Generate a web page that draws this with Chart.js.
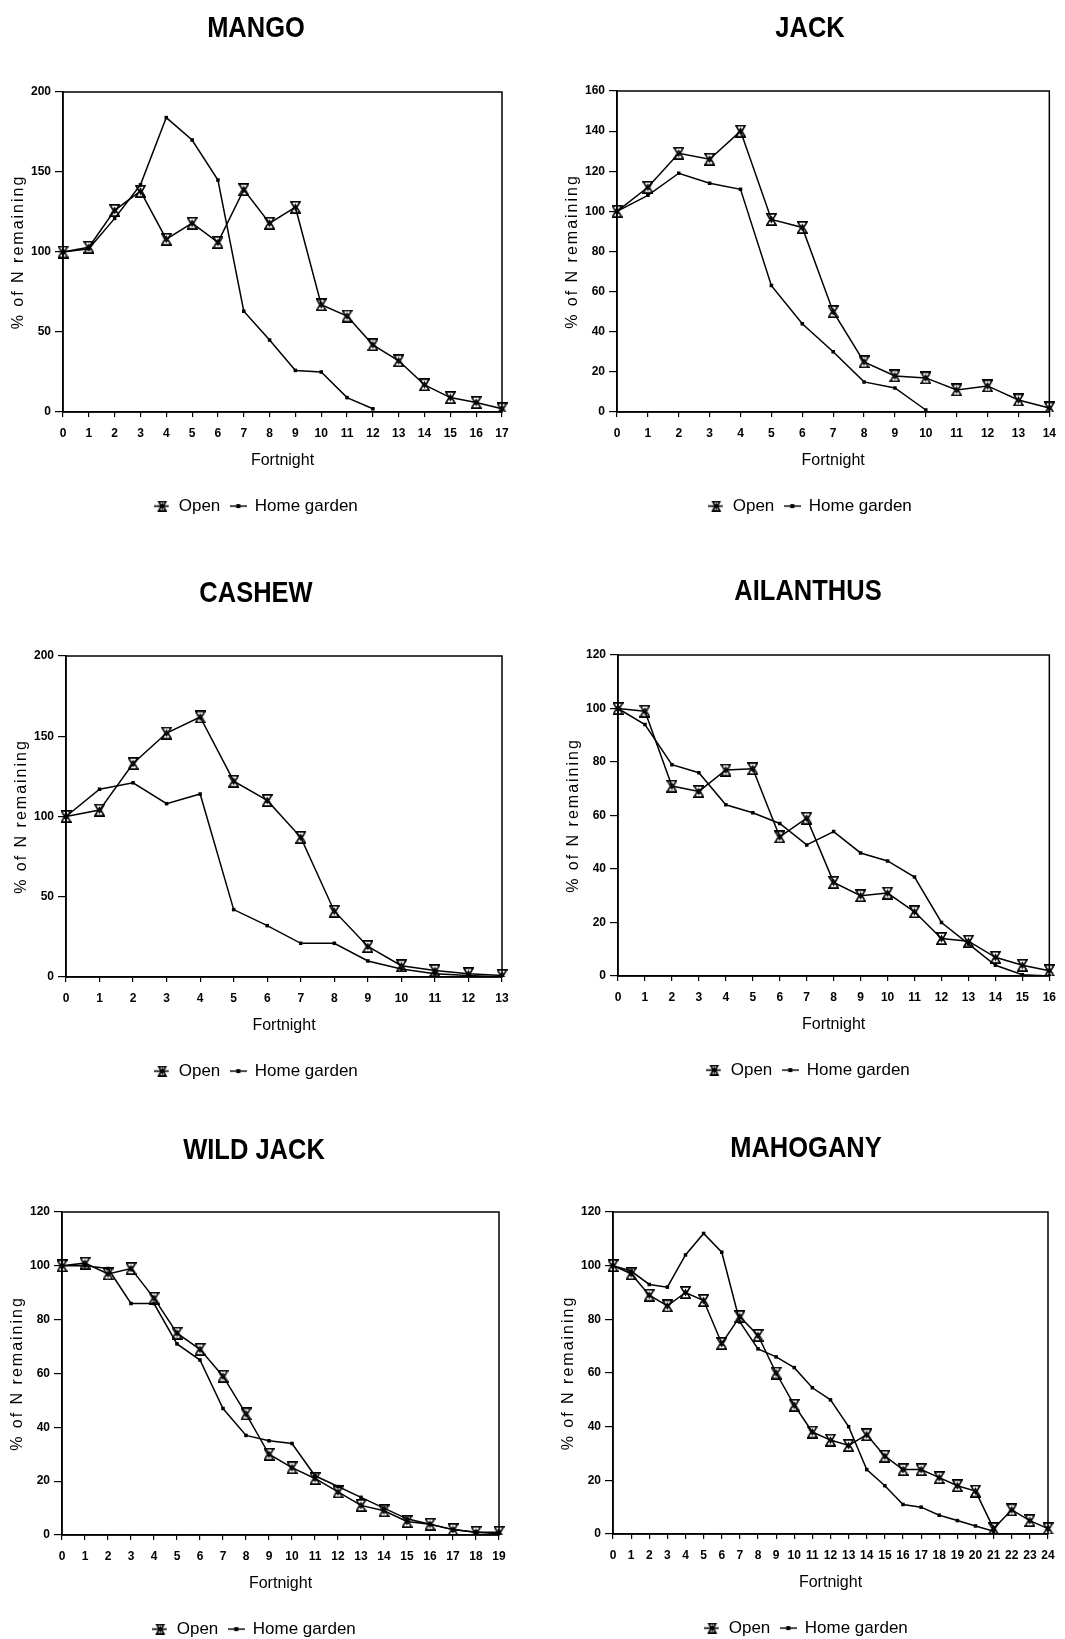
<!DOCTYPE html>
<html>
<head>
<meta charset="utf-8">
<title>N remaining in decomposing leaf litter</title>
<script src="https://cdn.jsdelivr.net/npm/chart.js@4.4.1/dist/chart.umd.min.js"></script>
<style>
  html, body { margin: 0; padding: 0; background: #fff; }
  body { position: relative; width: 1065px; height: 1639px; overflow: hidden; }
  canvas { position: absolute; }
</style>
</head>
<body>
<canvas id="mango"></canvas>
<canvas id="jack"></canvas>
<canvas id="cashew"></canvas>
<canvas id="ailanthus"></canvas>
<canvas id="wildjack"></canvas>
<canvas id="mahogany"></canvas>
<script>
/* ---- data: % of initial N remaining, per fortnight ---- */
const mangoWeeks = [0, 1, 2, 3, 4, 5, 6, 7, 8, 9, 10, 11, 12, 13, 14, 15, 16, 17];
const mangoOpen  = [100, 103, 126, 138, 108, 118, 106, 139, 118, 128, 67, 60, 42, 32, 17, 9, 6, 2];
const mangoHome  = [100, 102, 121, 142, 184, 170, 145, 63, 45, 26, 25, 9, 2];

const jackWeeks = [0, 1, 2, 3, 4, 5, 6, 7, 8, 9, 10, 11, 12, 13, 14];
const jackOpen  = [100, 112, 129, 126, 140, 96, 92, 50, 25, 18, 17, 11, 13, 6, 2];
const jackHome  = [100, 108, 119, 114, 111, 63, 44, 30, 15, 12, 1];

const cashewWeeks = [0, 1, 2, 3, 4, 5, 6, 7, 8, 9, 10, 11, 12, 13];
const cashewOpen  = [100, 104, 133, 152, 162, 122, 110, 87, 41, 19, 7, 4, 2, 1];
const cashewHome  = [100, 117, 121, 108, 114, 42, 32, 21, 21, 10, 5, 2, 1, 0];

const ailanthusWeeks = [0, 1, 2, 3, 4, 5, 6, 7, 8, 9, 10, 11, 12, 13, 14, 15, 16];
const ailanthusOpen  = [100, 99, 71, 69, 77, 77.5, 52, 59, 35, 30, 31, 24, 14, 13, 7, 4, 2];
const ailanthusHome  = [100, 94, 79, 76, 64, 61, 57, 49, 54, 46, 43, 37, 20, 12, 4, 0.5, 0];

const wildJackWeeks = [0, 1, 2, 3, 4, 5, 6, 7, 8, 9, 10, 11, 12, 13, 14, 15, 16, 17, 18, 19];
const wildJackOpen  = [100, 101, 97, 99, 88, 75, 69, 59, 45, 30, 25, 21, 16, 11, 9, 5, 4, 2, 1, 1];
const wildJackHome  = [100, 100, 99, 86, 86, 71, 65, 47, 37, 35, 34, 22, 18, 14, 10, 6, 4, 2, 1, 0.5];

const mahoganyWeeks = [0, 1, 2, 3, 4, 5, 6, 7, 8, 9, 10, 11, 12, 13, 14, 15, 16, 17, 18, 19, 20, 21, 22, 23, 24];
const mahoganyOpen  = [100, 97, 89, 85, 90, 87, 71, 81, 74, 60, 48, 38, 35, 33, 37, 29, 24, 24, 21, 18, 16, 2, 9, 5, 2];
const mahoganyHome  = [100, 98, 93, 92, 104, 112, 105, 79, 69, 66, 62, 54.5, 50, 40, 24, 18, 11, 10, 7, 5, 3, 1];

const SERIES_NAMES = ['Open', 'Home garden'];
const Y_TITLE = '% of N remaining';
const X_TITLE = 'Fortnight';

/* ---- look ---- */
const FONT = '"Liberation Sans", Arial, Helvetica, sans-serif';
const INK = '#000';

Chart.defaults.font.family = FONT;
Chart.defaults.color = INK;

/* hollow hourglass marker (down triangle over up triangle) */
function hourglassIcon(w, h, legendLine) {
  const c = document.createElement('canvas');
  const pad = legendLine ? 4 : 0;
  c.width = w + pad * 2;
  c.height = h;
  const g = c.getContext('2d');
  g.strokeStyle = INK;
  g.lineWidth = 1.6;
  g.lineJoin = 'miter';
  const l = pad + 0.9, r = pad + w - 0.9, t = 0.9, b = h - 0.9, cx = pad + w / 2;
  const over = h * 0.18;
  g.beginPath();
  g.moveTo(l, t); g.lineTo(r, t); g.lineTo(cx, h / 2 + over); g.closePath();
  g.moveTo(l, b); g.lineTo(r, b); g.lineTo(cx, h / 2 - over); g.closePath();
  g.stroke();
  if (legendLine) {
    g.beginPath();
    g.moveTo(0, h / 2); g.lineTo(c.width - 2, h / 2);
    g.stroke();
  }
  return c;
}

/* legend key for the home garden series: short line with a square */
function squareLineIcon() {
  const c = document.createElement('canvas');
  c.width = 17; c.height = 6;
  const g = c.getContext('2d');
  g.fillStyle = INK;
  g.fillRect(0, 2.3, 17, 1.4);
  g.fillRect(6.5, 1, 4, 4);
  return c;
}

const openMarker = hourglassIcon(11, 13, false);
const openKey = hourglassIcon(9, 11, true);
const homeKey = squareLineIcon();

/* frame round the plot area */
const framePlugin = {
  id: 'frame',
  afterDatasetsDraw(chart) {
    const {ctx, chartArea: a} = chart;
    ctx.save();
    ctx.strokeStyle = INK;
    ctx.lineWidth = 1.5;
    ctx.strokeRect(a.left, a.top, a.right - a.left, a.bottom - a.top);
    ctx.restore();
  }
};

/* rotated, letter-spaced y axis title */
const yTitlePlugin = {
  id: 'yTitle',
  afterDraw(chart) {
    const {ctx, chartArea: a} = chart;
    ctx.save();
    ctx.translate(a.left - 44, (a.top + a.bottom) / 2);
    ctx.rotate(-Math.PI / 2);
    ctx.font = '16px ' + FONT;
    if ('letterSpacing' in ctx) ctx.letterSpacing = '2px';
    ctx.fillStyle = INK;
    ctx.textAlign = 'center';
    ctx.textBaseline = 'middle';
    ctx.fillText(Y_TITLE, 0, 0);
    ctx.restore();
  }
};

/* condensed bold panel heading */
const headingPlugin = {
  id: 'heading',
  afterDraw(chart, args, opts) {
    const ctx = chart.ctx;
    ctx.save();
    ctx.font = 'bold 30px ' + FONT;
    ctx.fillStyle = INK;
    ctx.textAlign = 'center';
    ctx.textBaseline = 'alphabetic';
    ctx.translate(opts.x, opts.y + 10.7);
    ctx.scale(0.85, 1);
    ctx.fillText(opts.text, 0, 0);
    ctx.restore();
  }
};

/* panel placement on the page: canvas origin/width, plot box [l, t, r, b], heading centre */
const panels = [
  {id: 'mango',     title: 'MANGO',     weeks: mangoWeeks,     open: mangoOpen,     home: mangoHome,     yMax: 200, yStep: 50,
   x0: 0,   y0: 0,    w: 532, plot: [63, 92, 502, 412],     tx: 256, ty: 26},
  {id: 'jack',      title: 'JACK',      weeks: jackWeeks,      open: jackOpen,      home: jackHome,      yMax: 160, yStep: 20,
   x0: 532, y0: 0,    w: 533, plot: [617, 91, 1051, 412],   tx: 810, ty: 26},
  {id: 'cashew',    title: 'CASHEW',    weeks: cashewWeeks,    open: cashewOpen,    home: cashewHome,    yMax: 200, yStep: 50,
   x0: 0,   y0: 540,  w: 532, plot: [66, 656, 502, 977],    tx: 256, ty: 591},
  {id: 'ailanthus', title: 'AILANTHUS', weeks: ailanthusWeeks, open: ailanthusOpen, home: ailanthusHome, yMax: 120, yStep: 20,
   x0: 532, y0: 540,  w: 533, plot: [618, 655, 1052, 976],  tx: 808, ty: 589},
  {id: 'wildjack',  title: 'WILD JACK', weeks: wildJackWeeks,  open: wildJackOpen,  home: wildJackHome,  yMax: 120, yStep: 20,
   x0: 0,   y0: 1090, w: 532, plot: [62, 1212, 499, 1535],  tx: 254, ty: 1148},
  {id: 'mahogany',  title: 'MAHOGANY',  weeks: mahoganyWeeks,  open: mahoganyOpen,  home: mahoganyHome,  yMax: 120, yStep: 20,
   x0: 532, y0: 1090, w: 533, plot: [613, 1212, 1048, 1534], tx: 806, ty: 1146}
];

const X_TICK_LEN = 5, X_TICK_PAD = 9, X_TITLE_PAD = {top: 2, bottom: 17};
const X_SCALE_H = X_TICK_LEN + 12 * 1.2 + 2 * X_TICK_PAD + 16 * 1.2 + X_TITLE_PAD.top + X_TITLE_PAD.bottom;
const LEGEND_SIZE = 17, LEGEND_PAD = 10;
const LEGEND_H = LEGEND_SIZE + LEGEND_PAD + 10;

panels.forEach(p => {
  const [L, T, R, B] = p.plot;
  const height = B - p.y0 + 114;
  const padL = 2 * p.tx - R - p.x0;          // centres the legend on tx
  const padR = p.x0 + p.w - R;
  const yWidth = L - p.x0 - padL;
  const padT = T - p.y0;
  const padB = height - (B - p.y0) - X_SCALE_H - LEGEND_H;

  const canvas = document.getElementById(p.id);
  canvas.width = p.w;
  canvas.height = height;
  canvas.style.left = p.x0 + 'px';
  canvas.style.top = p.y0 + 'px';

  new Chart(canvas, {
    type: 'line',
    data: {
      labels: p.weeks.map(String),
      datasets: [
        {label: SERIES_NAMES[0], data: p.open, pointStyle: openMarker, pointRadius: 6},
        {label: SERIES_NAMES[1], data: p.home, pointStyle: 'rect', pointRadius: 2.5,
         pointBackgroundColor: INK, pointBorderWidth: 0}
      ]
    },
    options: {
      responsive: false,
      animation: false,
      events: [],
      layout: {padding: {left: padL, right: padR, top: padT, bottom: padB}},
      elements: {
        line: {borderColor: INK, borderWidth: 1.5, tension: 0, fill: false},
        point: {borderColor: INK, backgroundColor: INK}
      },
      scales: {
        x: {
          type: 'category',
          offset: false,
          grid: {drawOnChartArea: false, drawTicks: true, tickLength: X_TICK_LEN, color: INK, lineWidth: 1.2},
          border: {display: true, color: INK, width: 1.5},
          ticks: {color: INK, font: {size: 12, weight: 'bold'}, padding: X_TICK_PAD, maxRotation: 0, autoSkip: false},
          title: {display: true, text: X_TITLE, color: INK, font: {size: 16}, padding: X_TITLE_PAD}
        },
        y: {
          min: 0,
          max: p.yMax,
          grid: {drawOnChartArea: false, drawTicks: true, tickLength: 8, color: INK, lineWidth: 1.2},
          border: {display: true, color: INK, width: 1.5},
          ticks: {stepSize: p.yStep, color: INK, font: {size: 12, weight: 'bold'}, padding: 4},
          afterFit(scale) { scale.width = yWidth; }
        }
      },
      plugins: {
        heading: {text: p.title, x: p.tx - p.x0, y: p.ty - p.y0},
        legend: {
          position: 'bottom',
          labels: {
            usePointStyle: true,
            pointStyleWidth: 16,
            padding: LEGEND_PAD,
            color: INK,
            font: {size: LEGEND_SIZE},
            generateLabels: () => [
              {text: SERIES_NAMES[0], pointStyle: openKey, fillStyle: INK, strokeStyle: INK, lineWidth: 0, hidden: false, datasetIndex: 0, fontColor: INK},
              {text: SERIES_NAMES[1], pointStyle: homeKey, fillStyle: INK, strokeStyle: INK, lineWidth: 0, hidden: false, datasetIndex: 1, fontColor: INK}
            ]
          }
        },
        tooltip: {enabled: false}
      }
    },
    plugins: [framePlugin, yTitlePlugin, headingPlugin]
  });
});
</script>
</body>
</html>
